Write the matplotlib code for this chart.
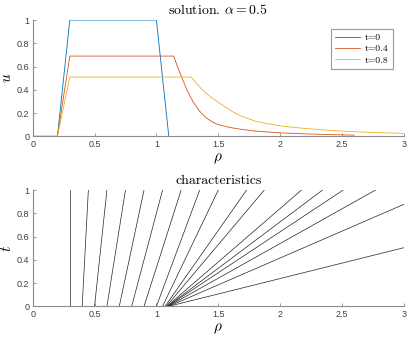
import matplotlib
matplotlib.use("Agg")
import matplotlib.pyplot as plt

# profile u(rho) at three times
rho_t0 = [0, 0.2, 0.3, 1.0, 1.1]
u_t0 = [0, 0, 1.0, 1.0, 0]

rho_t04 = [0, 0.2, 0.3, 1.14, 1.17, 1.2, 1.25, 1.3, 1.35, 1.4, 1.45, 1.5,
           1.6, 1.7, 1.8, 1.9, 2.0, 2.2, 2.4, 2.6]
u_t04 = [0, 0, 0.69, 0.69, 0.60, 0.52, 0.39, 0.29, 0.215, 0.16, 0.125, 0.10,
         0.075, 0.058, 0.045, 0.037, 0.03, 0.021, 0.015, 0.01]

rho_t08 = [0, 0.2, 0.3, 1.28, 1.32, 1.36, 1.4, 1.45, 1.5, 1.55, 1.6, 1.65, 1.7,
           1.8, 1.9, 2.0, 2.1, 2.2, 2.35, 2.5, 2.65, 2.8, 3.0]
u_t08 = [0, 0, 0.51, 0.51, 0.46, 0.412, 0.372, 0.33, 0.292, 0.257, 0.222, 0.192, 0.168,
         0.13, 0.108, 0.09, 0.078, 0.068, 0.055, 0.045, 0.037, 0.031, 0.025]

# characteristics: start rho at t=0, end point (rho, t)
char_start = [0.3, 0.4, 0.5, 0.6, 0.7, 0.8, 0.9, 1.0, 1.05,
              1.07, 1.08, 1.085, 1.09, 1.09, 1.095, 1.1, 1.1]
char_end_rho = [0.3, 0.45, 0.6, 0.75, 0.9, 1.05, 1.2, 1.35, 1.5,
                1.729, 1.872, 2.173, 2.343, 2.51, 2.771, 3.0, 3.0]
char_end_t = [1, 1, 1, 1, 1, 1, 1, 1, 1,
              1, 1, 1, 1, 1, 1, 0.877, 0.504]

x_ticks = [0, 0.5, 1, 1.5, 2, 2.5, 3]
x_ticklabels = ["0", "0.5", "1", "1.5", "2", "2.5", "3"]
y_ticks = [0, 0.2, 0.4, 0.6, 0.8, 1]
y_ticklabels = ["0", "0.2", "0.4", "0.6", "0.8", "1"]

plt.rcParams['mathtext.fontset'] = 'cm'
plt.rcParams['font.family'] = ['cmr10', 'DejaVu Serif']
plt.rcParams['axes.formatter.use_mathtext'] = True

fig = plt.figure(figsize=(4.07, 3.38), dpi=100)
ax1 = fig.add_axes([0.0803, 0.5967, 0.912, 0.344])
ax2 = fig.add_axes([0.0803, 0.0938, 0.912, 0.344])

def style(ax):
    ax.set_xlim(0, 3)
    ax.set_ylim(0, 1)
    ax.spines['top'].set_visible(False)
    ax.spines['right'].set_visible(False)
    for s in ['left', 'bottom']:
        ax.spines[s].set_color('#8c8c8c')
        ax.spines[s].set_linewidth(0.8)
    ax.set_xticks(x_ticks)
    ax.set_xticklabels(x_ticklabels, family='Liberation Sans', fontsize=6.5, color='#404040')
    ax.set_yticks(y_ticks)
    ax.set_yticklabels(y_ticklabels, family='Liberation Sans', fontsize=6.5, color='#404040')
    ax.tick_params(direction='in', length=2.5, width=0.6, color='#8c8c8c', pad=2.5)

ax1.plot(rho_t0, u_t0, color='#0072BD', lw=0.6, label='t=0')
ax1.plot(rho_t04, u_t04, color='#D95319', lw=0.6, label='t=0.4')
ax1.plot(rho_t08, u_t08, color='#EDB120', lw=0.6, label='t=0.8')
style(ax1)
ax1.set_title(r'solution. $\alpha=0.5$', fontsize=10, pad=4)
ax1.set_xlabel(r'$\rho$', fontsize=11, labelpad=2)
ax1.set_ylabel(r'$u$', fontsize=11, labelpad=2)
leg = ax1.legend(loc='upper right', bbox_to_anchor=(0.985, 0.965), fontsize=7,
                 handlelength=2.6, handletextpad=0.5, borderpad=0.45,
                 labelspacing=0.25, fancybox=False, framealpha=1)
leg.get_frame().set_edgecolor('#9a9a9a')
leg.get_frame().set_linewidth(0.8)

for r0, r1, t1 in zip(char_start, char_end_rho, char_end_t):
    ax2.plot([r0, r1], [0, t1], color='#222222', lw=0.5)
style(ax2)
ax2.set_title('characteristics', fontsize=10, pad=4)
ax2.set_xlabel(r'$\rho$', fontsize=11, labelpad=2)
ax2.set_ylabel(r'$t$', fontsize=11, labelpad=2)

fig.savefig('out.png', dpi=100)
